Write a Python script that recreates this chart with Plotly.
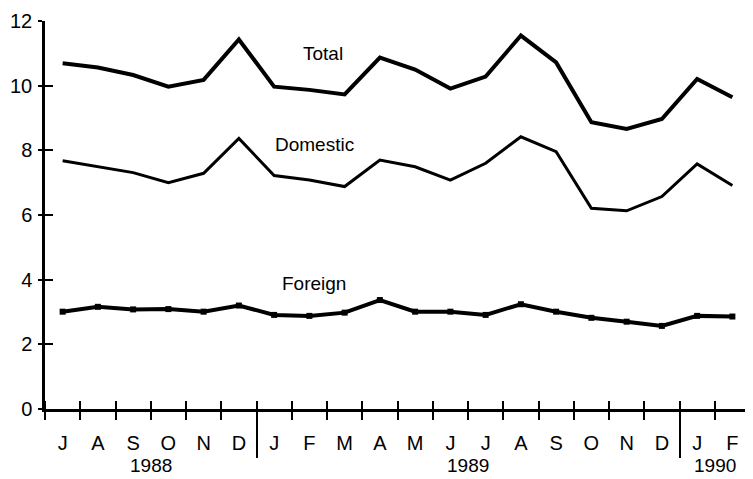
import plotly.graph_objects as go

months = ["J", "A", "S", "O", "N", "D",
          "J", "F", "M", "A", "M", "J", "J", "A", "S", "O", "N", "D",
          "J", "F"]
years = ["1988", "1989", "1990"]
year_centers = [2.5, 11.5, 18.5]
year_breaks = [5.5, 17.5]

total = [10.69, 10.56, 10.33, 9.97, 10.18, 11.43,
         9.97, 9.87, 9.73, 10.87, 10.5, 9.91, 10.28, 11.55, 10.72, 8.87, 8.66, 8.97,
         10.21, 9.64]
domestic = [7.68, 7.49, 7.31, 7.0, 7.29, 8.37,
            7.22, 7.08, 6.88, 7.70, 7.49, 7.08, 7.6, 8.42, 7.96, 6.21, 6.13, 6.57,
            7.58, 6.91]
foreign = [3.01, 3.16, 3.08, 3.09, 3.01, 3.2,
           2.91, 2.88, 2.98, 3.37, 3.01, 3.01, 2.91, 3.24, 3.01, 2.82, 2.70, 2.57,
           2.88, 2.86]

yticks = [0, 2, 4, 6, 8, 10, 12]
x = list(range(len(months)))
bounds = [i - 0.5 for i in range(len(months) + 1)]
FONT = "Liberation Sans, Arial, sans-serif"

fig = go.Figure()
fig.add_trace(go.Scatter(x=x, y=total, mode="lines", name="Total",
                         line=dict(color="black", width=4)))
fig.add_trace(go.Scatter(x=x, y=domestic, mode="lines", name="Domestic",
                         line=dict(color="black", width=3)))
fig.add_trace(go.Scatter(x=x, y=foreign, mode="lines+markers", name="Foreign",
                         line=dict(color="black", width=4),
                         marker=dict(symbol="square", size=6, color="black")))
# empty trace so the overlay axes (inside half of the crossing ticks) get drawn
fig.add_trace(go.Scatter(x=[], y=[], xaxis="x2", yaxis="y2", showlegend=False))

annotations = [
    dict(x=7.38, y=10.98, text="Total"),
    dict(x=7.15, y=8.17, text="Domestic"),
    dict(x=7.12, y=3.87, text="Foreign"),
]
for a in annotations:
    a.update(xref="x", yref="y", showarrow=False,
             font=dict(family=FONT, size=19, color="black"))
for yr, c in zip(years, year_centers):
    annotations.append(dict(x=c, y=0, xref="x", yref="y", yshift=-56,
                            text=yr, showarrow=False,
                            font=dict(family=FONT, size=19, color="black")))

tick_style = dict(tickcolor="black", tickwidth=2)

# the page body adds an 8px margin, so the figure is 8px smaller each way
fig.update_layout(
    width=745, height=471,
    margin=dict(l=37, r=3, t=13, b=70),
    paper_bgcolor="white", plot_bgcolor="white",
    showlegend=False,
    annotations=annotations,
    font=dict(family=FONT, size=20, color="black"),
    xaxis=dict(range=[-0.5, 19.5], tickvals=x, ticktext=months,
               showgrid=False, zeroline=False, ticks="", automargin=False,
               showline=True, linecolor="black", linewidth=2.5,
               ticklabelstandoff=14,
               minor=dict(tickvals=bounds, ticks="outside", ticklen=8,
                          showgrid=False, **tick_style)),
    xaxis2=dict(overlaying="x", matches="x", anchor="y", side="bottom",
                tickvals=year_breaks, ticks="outside", ticklen=48,
                showticklabels=False, showgrid=False, zeroline=False,
                showline=False, automargin=False, **tick_style,
                minor=dict(tickvals=bounds, ticks="inside", ticklen=8,
                           showgrid=False, **tick_style)),
    yaxis=dict(range=[0, 12], tickvals=yticks, showgrid=False, zeroline=False,
               ticks="outside", ticklen=4, automargin=False, **tick_style,
               showline=True, linecolor="black", linewidth=2.5,
               ticklabelstandoff=2),
    yaxis2=dict(overlaying="y", matches="y", anchor="x", side="left",
                tickvals=yticks, ticks="inside", ticklen=8,
                showticklabels=False, showgrid=False, zeroline=False,
                showline=False, automargin=False, **tick_style),
)

fig.write_html("out.html")
